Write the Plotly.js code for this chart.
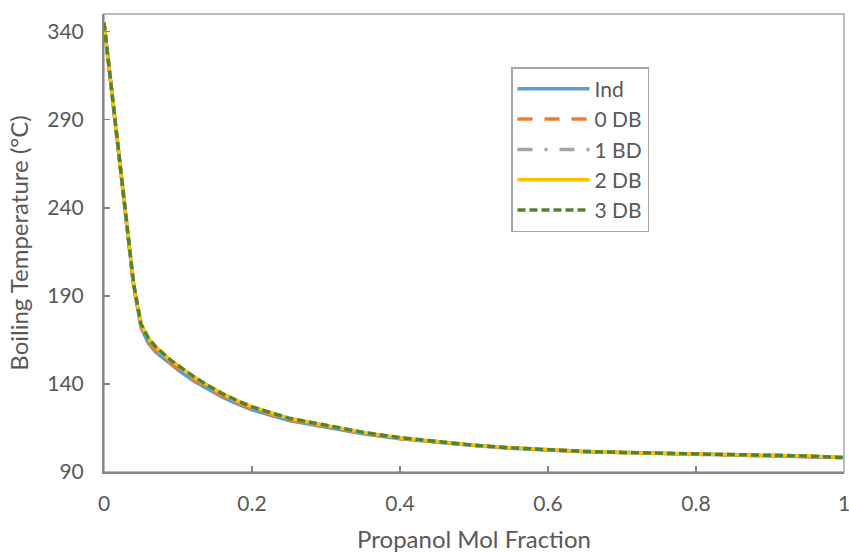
<!DOCTYPE html>
<html>
<head>
<meta charset="utf-8">
<script src="https://cdn.plot.ly/plotly-3.0.1.min.js"></script>
<style>html,body{margin:0;padding:0;background:#fff;}#chart{width:849px;height:553px;}</style>
</head>
<body>
<div id="chart"></div>
<script>
// Propanol mol fraction (x)
const molFraction = [0, 0.01, 0.02, 0.03, 0.04, 0.05, 0.06, 0.07, 0.08, 0.09, 0.10, 0.12, 0.14, 0.16, 0.18, 0.20, 0.25, 0.30, 0.35, 0.40, 0.45, 0.50, 0.55, 0.60, 0.65, 0.70, 0.75, 0.80, 0.85, 0.90, 0.95, 1.00];
// Boiling temperature (°C) per model
const tInd = [345, 308, 270, 233, 196, 172, 163, 158, 154.5, 151, 148, 142, 137, 132.5, 128.7, 125.3, 119.2, 115.2, 111.7, 108.9, 106.8, 105.0, 103.5, 102.3, 101.5, 101.0, 100.6, 100.2, 99.9, 99.5, 99.0, 98.2];
const t0DB = [345, 308, 270, 233, 196, 172.5, 163.8, 158.8, 155.2, 151.7, 148.7, 142.7, 137.6, 133.1, 129.2, 125.8, 119.6, 115.5, 111.9, 109.0, 106.9, 105.1, 103.6, 102.4, 101.6, 101.0, 100.6, 100.2, 99.9, 99.5, 99.0, 98.2];
const t1BD = [345, 308, 270, 233, 196.5, 173.5, 165.3, 160.3, 156.4, 152.9, 149.9, 143.9, 138.7, 134.0, 130.0, 126.6, 120.2, 116.0, 112.3, 109.3, 107.1, 105.2, 103.7, 102.5, 101.7, 101.1, 100.7, 100.3, 100.0, 99.6, 99.1, 98.2];
const t2DB = [345, 308, 270, 233, 197, 174, 166, 161, 157, 153.5, 150.5, 144.5, 139.2, 134.5, 130.5, 127.0, 120.5, 116.3, 112.5, 109.5, 107.2, 105.2, 103.7, 102.5, 101.7, 101.1, 100.7, 100.3, 100.0, 99.6, 99.1, 98.2];
const t3DB = [345, 308, 270, 233, 197, 174, 166, 161, 157, 153.5, 150.5, 144.5, 139.2, 134.5, 130.5, 127.0, 120.5, 116.3, 112.5, 109.5, 107.2, 105.2, 103.7, 102.5, 101.7, 101.1, 100.7, 100.3, 100.0, 99.6, 99.1, 98.2];
const seriesNames = ["Ind", "0 DB", "1 BD", "2 DB", "3 DB"];
const yTickVals = [90, 140, 190, 240, 290, 340];
const xTickVals = [0, 0.2, 0.4, 0.6, 0.8, 1];

const FONT = "Lato, 'Open Sans', sans-serif";
const styles = [
  {color: "#5B9BD5", width: 3.5, dash: "solid"},
  {color: "#ED7D31", width: 3.5, dash: "15px,12px"},
  {color: "#A5A5A5", width: 3.5, dash: "15px,12px,3px,12px"},
  {color: "#FFC000", width: 3.5, dash: "solid"},
  {color: "#548235", width: 3.5, dash: "8px,4px"}
];
const ys = [tInd, t0DB, t1BD, t2DB, t3DB];
const traces = ys.map((y, i) => ({
  type: "scatter", mode: "lines", x: molFraction, y: y, name: seriesNames[i],
  cliponaxis: false,
  line: {color: styles[i].color, width: styles[i].width, dash: styles[i].dash}
}));

const layout = {
  width: 849, height: 553,
  margin: {l: 104, r: 5, t: 14, b: 81},
  paper_bgcolor: "#fff", plot_bgcolor: "#fff",
  font: {family: FONT, size: 21, color: "#595959"},
  showlegend: true,
  legend: {
    x: 0.55, y: 0.884, xanchor: "left", yanchor: "top",
    bordercolor: "#A6A6A6", borderwidth: 1.5, bgcolor: "#fff",
    font: {family: FONT, size: 21, color: "#595959"},
    itemwidth: 72, tracegroupgap: 0
  },
  xaxis: {
    range: [0, 1], tickvals: xTickVals, ticktext: xTickVals.map(String),
    ticks: "inside", ticklen: 6, tickcolor: "#868686", tickwidth: 1.5,
    showline: true, linecolor: "#868686", linewidth: 2,
    showgrid: false, zeroline: false, ticklabeloverflow: "allow",
    tickfont: {family: FONT, size: 21, color: "#595959"},
    ticklabelstandoff: 12,
    title: {text: "Propanol Mol Fraction", font: {family: FONT, size: 24, color: "#595959"}, standoff: 17}
  },
  yaxis: {
    range: [90, 350], tickvals: yTickVals, ticktext: yTickVals.map(String),
    ticks: "inside", ticklen: 6, tickcolor: "#868686", tickwidth: 1.5,
    showline: true, linecolor: "#868686", linewidth: 2,
    showgrid: false, zeroline: false,
    tickfont: {family: FONT, size: 21, color: "#595959"},
    ticklabelstandoff: 14,
    title: {text: "Boiling Temperature (°C)", font: {family: FONT, size: 24, color: "#595959"}, standoff: 12}
  },
  shapes: [{
    type: "rect", xref: "paper", yref: "paper", x0: 0, x1: 1, y0: 0, y1: 1,
    line: {color: "#A6A6A6", width: 1.5}, layer: "below"
  }]
};

Plotly.newPlot("chart", traces, layout, {staticPlot: true, displayModeBar: false});
</script>
</body>
</html>
